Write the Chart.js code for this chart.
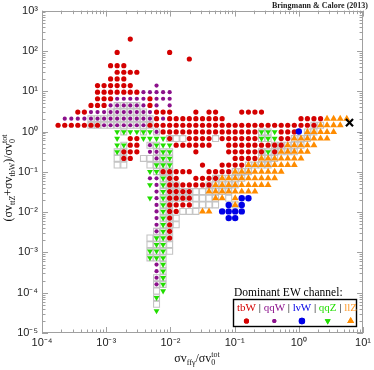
<!DOCTYPE html>
<html><head><meta charset="utf-8">
<script src="https://cdn.jsdelivr.net/npm/chart.js@4/dist/chart.umd.min.js"></script>
<style>html,body{margin:0;padding:0;background:#fff;overflow:hidden}</style>
</head><body>
<canvas id="c" width="374" height="370" style="width:374px;height:370px;display:block"></canvas>
<script>
// ---- tick labels ----
const xTickValues = [1e-4, 1e-3, 1e-2, 1e-1, 1, 10];
const xTickLabels = ['10\u207B\u2074', '10\u207B\u00B3', '10\u207B\u00B2', '10\u207B\u00B9', '10\u2070', '10\u00B9'];
const yTickValues = [1e-5, 1e-4, 1e-3, 1e-2, 1e-1, 1, 10, 100, 1000];
const yTickLabels = ['10\u207B\u2075', '10\u207B\u2074', '10\u207B\u00B3', '10\u207B\u00B2', '10\u207B\u00B9', '10\u2070', '10\u00B9', '10\u00B2', '10\u00B3'];

// ---- data: rows of [y, [x values]] ----
const tbW = [
  [196, [2.37e-3]],
  [91.9, [1.48e-3, 9.73e-3]],
  [63, [0.0197]],
  [43.1, [1.17e-3, 1.48e-3, 1.88e-3]],
  [29.5, [1.48e-3, 1.88e-3, 2.37e-3, 3.0e-3]],
  [20.2, [1.17e-3, 1.48e-3, 1.88e-3]],
  [13.8, [7.32e-4, 9.26e-4, 1.17e-3, 1.48e-3, 1.88e-3, 2.37e-3]],
  [9.47, [7.32e-4, 9.26e-4, 1.17e-3, 1.48e-3, 1.88e-3, 2.37e-3, 3.0e-3]],
  [6.49, [7.32e-4, 9.26e-4, 1.17e-3, 4.8e-3]],
  [4.44, [5.79e-4, 7.32e-4, 9.26e-4, 4.8e-3]],
  [3.04, [3.61e-4, 4.57e-4, 6.08e-3, 7.69e-3, 9.73e-3, 0.0249, 0.0399, 0.0505, 0.129, 0.164, 0.207, 0.262]],
  [2.08, [6.08e-3, 9.73e-3, 0.0123, 0.0156, 0.0197, 0.0249, 0.0316, 0.0399, 0.0505, 0.0639, 1.08, 1.36, 1.72, 2.18]],
  [1.43, [1.78e-4, 2.26e-4, 2.86e-4, 3.61e-4, 4.57e-4, 5.79e-4, 7.32e-4, 4.8e-3, 6.08e-3, 7.69e-3, 9.73e-3, 0.0123, 0.0156, 0.0197, 0.0249, 0.0316, 0.0399, 0.0505, 0.0639, 0.0808, 0.102, 0.129, 0.164, 0.207, 0.262, 0.332, 0.42, 0.531, 0.672, 0.85, 1.08, 1.36, 1.72]],
  [0.976, [7.69e-3, 9.73e-3, 0.0123, 0.0156, 0.0197, 0.0249, 0.0316, 0.0399, 0.0505, 0.0639, 0.0808, 0.102, 0.129, 0.164, 0.207, 0.531, 0.672, 0.85]],
  [0.668, [2.37e-3, 3.0e-3, 9.73e-3, 0.0197, 0.0249, 0.0316, 0.0399, 0.0639, 0.0808, 0.102, 0.129, 0.164, 0.207, 0.531, 0.672]],
  [0.457, [2.37e-3, 3.0e-3, 0.0123, 0.0156, 0.0197, 0.0249, 0.0316, 0.0399, 0.0808, 0.102, 0.129, 0.164, 0.207, 0.262, 0.332, 0.42, 0.531]],
  [0.313, [1.88e-3, 2.37e-3, 3.0e-3, 0.0249, 0.0808, 0.102, 0.129, 0.164, 0.207, 0.262, 0.42]],
  [0.215, [1.88e-3, 2.37e-3, 0.102, 0.129, 0.164, 0.207]],
  [0.147, [0.0316, 0.0639, 0.0808, 0.102, 0.129]],
  [0.101, [7.69e-3, 9.73e-3, 0.0123, 0.0156, 0.0197, 0.0399, 0.0505, 0.0639, 0.0808]],
  [0.0689, [9.73e-3, 0.0123, 0.0249, 0.0316, 0.0399, 0.0505]],
  [0.0472, [9.73e-3, 0.0123, 0.0156, 0.0197, 0.0249, 0.0316, 0.0399]],
  [0.0323, [9.73e-3, 0.0123, 0.0156, 0.0197]],
  [0.0221, [9.73e-3, 0.0123, 0.0156, 0.0197]],
  [0.0151, [9.73e-3, 0.0123, 0.0156, 0.0197]],
  [0.0104, [9.73e-3, 0.0123]],
  [0.0071, [9.73e-3]],
  [0.00486, [9.73e-3]],
  [0.00333, [9.73e-3]],
  [0.00228, [9.73e-3]]
];
const qqW = [
  [13.8, [6.08e-3]],
  [9.47, [3.8e-3, 4.8e-3, 6.08e-3, 7.69e-3, 9.73e-3]],
  [6.49, [1.48e-3, 1.88e-3, 2.37e-3, 3.0e-3, 3.8e-3, 6.08e-3, 7.69e-3, 9.73e-3]],
  [4.44, [1.17e-3, 1.48e-3, 1.88e-3, 2.37e-3, 3.0e-3, 3.8e-3, 6.08e-3, 9.73e-3]],
  [3.04, [5.79e-4, 7.32e-4, 9.26e-4, 1.17e-3, 1.48e-3, 1.88e-3, 2.37e-3, 3.0e-3, 3.8e-3, 4.8e-3]],
  [2.08, [2.26e-4, 2.86e-4, 3.61e-4, 4.57e-4, 5.79e-4, 7.32e-4, 9.26e-4, 1.17e-3, 1.48e-3, 1.88e-3, 2.37e-3, 3.0e-3, 3.8e-3, 4.8e-3, 7.69e-3]],
  [1.43, [9.26e-4, 1.17e-3, 1.48e-3, 1.88e-3, 2.37e-3, 3.0e-3, 3.8e-3]],
  [0.976, [6.08e-3]],
  [0.457, [4.8e-3]],
  [0.313, [4.8e-3, 6.08e-3]],
  [0.215, [6.08e-3]],
  [0.0689, [4.8e-3, 6.08e-3]],
  [0.0472, [6.08e-3]],
  [0.0323, [6.08e-3]],
  [0.0221, [6.08e-3]],
  [0.0151, [6.08e-3]],
  [0.0104, [6.08e-3]],
  [0.0071, [6.08e-3]],
  [0.00486, [6.08e-3]],
  [0.00333, [6.08e-3]],
  [5.0e-4, [6.08e-3]],
  [3.43e-4, [6.08e-3]],
  [2.35e-4, [6.08e-3]],
  [1.61e-4, [6.08e-3]]
];
const lvW = [
  [1.0, [1.0]],
  [0.0221, [0.129, 0.164]],
  [0.0151, [0.0808, 0.129]],
  [0.0104, [0.0639, 0.0808, 0.102, 0.129]],
  [0.0071, [0.0808, 0.102]]
];
const qqZ = [
  [1.02, [0.98]],
  [0.976, [1.48e-3, 1.88e-3, 2.37e-3, 3.0e-3, 3.8e-3, 4.8e-3, 0.262, 0.332, 0.42]],
  [0.668, [1.48e-3, 3.8e-3, 4.8e-3, 6.08e-3, 7.69e-3, 0.262, 0.332, 0.42]],
  [0.457, [1.48e-3, 1.88e-3, 6.08e-3, 7.69e-3, 9.73e-3]],
  [0.313, [1.48e-3, 7.69e-3, 9.73e-3, 0.332]],
  [0.215, [7.69e-3, 9.73e-3]],
  [0.147, [6.08e-3, 7.69e-3, 9.73e-3]],
  [0.101, [4.8e-3, 6.08e-3]],
  [0.0689, [7.69e-3]],
  [0.0472, [4.8e-3, 7.69e-3]],
  [0.0323, [7.69e-3]],
  [0.0221, [4.8e-3, 7.69e-3]],
  [0.0151, [7.69e-3]],
  [0.0104, [7.69e-3]],
  [0.0071, [7.69e-3]],
  [0.00486, [7.69e-3]],
  [0.00333, [7.69e-3]],
  [0.00228, [6.08e-3, 7.69e-3]],
  [0.00156, [6.08e-3, 7.69e-3]],
  [0.00107, [4.8e-3, 6.08e-3, 7.69e-3]],
  [7.31e-4, [4.8e-3, 6.08e-3, 7.69e-3]],
  [5.0e-4, [7.69e-3]],
  [3.43e-4, [7.69e-3]],
  [2.35e-4, [7.69e-3]],
  [1.61e-4, [7.69e-3]],
  [1.10e-4, [7.69e-3]],
  [7.53e-5, [6.08e-3]],
  [3.53e-5, [6.08e-3]]
];
const llZ = [
  [2.08, [2.75, 3.48, 4.41, 5.58]],
  [1.43, [2.18, 2.75, 3.48, 4.41]],
  [0.976, [1.36, 1.72, 2.18, 2.75, 3.48]],
  [0.668, [0.85, 1.08, 1.36, 1.72, 2.18, 2.75]],
  [0.457, [0.672, 0.85, 1.08, 1.36, 1.72]],
  [0.313, [0.531, 0.672, 0.85, 1.08, 1.36]],
  [0.215, [0.262, 0.332, 0.42, 0.531, 0.672, 0.85, 1.08]],
  [0.147, [0.164, 0.207, 0.262, 0.332, 0.42, 0.531, 0.672, 0.85]],
  [0.101, [0.102, 0.129, 0.164, 0.207, 0.262, 0.332, 0.42, 0.531]],
  [0.0689, [0.0639, 0.0808, 0.102, 0.129, 0.164, 0.207, 0.262, 0.332, 0.42]],
  [0.0472, [0.0505, 0.0639, 0.0808, 0.102, 0.129, 0.164, 0.207, 0.262, 0.332]],
  [0.0323, [0.0399, 0.0505, 0.0639, 0.0808, 0.102, 0.129, 0.164, 0.207]],
  [0.0221, [0.0505, 0.0639, 0.102]],
  [0.0151, [0.102]],
  [0.0104, [0.0316, 0.0399]]
];
const otherModels = [
  [4.44, [1.48e-3, 1.88e-3, 2.37e-3, 3.0e-3]],
  [3.04, [1.17e-3, 1.48e-3, 1.88e-3, 2.37e-3, 3.0e-3, 3.8e-3]],
  [2.08, [5.79e-4, 7.32e-4, 9.26e-4, 1.17e-3, 1.48e-3, 1.88e-3, 2.37e-3, 3.0e-3, 3.8e-3, 4.8e-3]],
  [1.43, [5.79e-4, 7.32e-4, 9.26e-4, 1.17e-3, 1.48e-3, 1.88e-3, 2.37e-3, 3.0e-3, 3.8e-3, 4.8e-3, 1.72, 2.18]],
  [0.976, [1.88e-3, 3.8e-3, 6.08e-3, 0.262, 0.332, 1.36, 1.72]],
  [0.668, [9.73e-3, 0.0123, 0.0156, 0.0505, 0.262, 0.332, 0.85, 1.08, 1.36]],
  [0.457, [1.88e-3, 4.8e-3, 6.08e-3, 0.42, 0.531, 0.672, 0.85, 1.08]],
  [0.313, [1.48e-3, 1.88e-3, 6.08e-3, 7.69e-3, 9.73e-3, 0.262, 0.332, 0.42, 0.531, 0.672, 0.85]],
  [0.215, [1.48e-3, 1.88e-3, 3.8e-3, 4.8e-3, 6.08e-3, 7.69e-3, 9.73e-3, 0.262, 0.332, 0.42]],
  [0.147, [1.48e-3, 1.88e-3, 4.8e-3, 6.08e-3, 7.69e-3, 9.73e-3, 0.164, 0.207, 0.262, 0.332]],
  [0.101, [6.08e-3, 7.69e-3, 9.73e-3, 0.102, 0.129, 0.164]],
  [0.0689, [7.69e-3, 9.73e-3, 0.0505, 0.0639, 0.0808, 0.102, 0.129]],
  [0.0472, [7.69e-3, 9.73e-3, 0.0123, 0.0399, 0.0505, 0.0639, 0.0808, 0.102]],
  [0.0323, [7.69e-3, 9.73e-3, 0.0123, 0.0156, 0.0197, 0.0249, 0.0316, 0.0399, 0.0505, 0.0639, 0.0808]],
  [0.0221, [7.69e-3, 9.73e-3, 0.0123, 0.0156, 0.0197, 0.0249, 0.0316, 0.0399, 0.0505, 0.0808]],
  [0.0151, [7.69e-3, 9.73e-3, 0.0249, 0.0316, 0.0399, 0.0505, 0.102]],
  [0.0104, [7.69e-3, 9.73e-3, 0.0156, 0.0197, 0.0249]],
  [0.0071, [7.69e-3, 9.73e-3, 0.0123]],
  [0.00486, [7.69e-3, 9.73e-3, 0.0123]],
  [0.00333, [6.08e-3, 7.69e-3, 9.73e-3]],
  [0.00228, [4.8e-3, 6.08e-3, 7.69e-3, 9.73e-3]],
  [0.00156, [4.8e-3, 6.08e-3, 7.69e-3, 9.73e-3]],
  [0.00107, [4.8e-3, 6.08e-3, 7.69e-3, 9.73e-3]],
  [7.31e-4, [4.8e-3, 6.08e-3, 7.69e-3]],
  [5.0e-4, [7.69e-3]],
  [3.43e-4, [7.69e-3]],
  [2.35e-4, [6.08e-3, 7.69e-3]],
  [1.61e-4, [6.08e-3, 7.69e-3]],
  [1.10e-4, [6.08e-3]],
  [7.53e-5, [6.08e-3]],
  [5.16e-5, [6.08e-3]]
];
const benchmark = [[1.66, [6.15]]];

// ---- build library tables ----
const toPoints = rows => rows.flatMap(([yv, xs]) => xs.map(xv => ({x: xv, y: yv})));

const COL = {tbW:'#d40000', qqW:'#8b108b', lvW:'#0000e6', qqZ:'#22dd00', llZ:'#ff8c00'};

const legendItems = [
  {text:'tbW', color:COL.tbW, style:'circle', r:2.6, rot:0},
  {text:'qqW', color:COL.qqW, style:'circle', r:2.1, rot:0},
  {text:'l\u03BDW', color:COL.lvW, style:'circle', r:3.2, rot:0},
  {text:'qqZ', color:COL.qqZ, style:'triangle', r:3.4, rot:180},
  {text:'llZ', color:'#ff9a2a', style:'triangle', r:4.0, rot:0, mark:COL.llZ}
];

function partsWidth(ctx, parts) {
  let w = 0;
  for (const p of parts) {
    ctx.font = p.font;
    if (p.stack) w += Math.max(ctx.measureText(p.stack[0]).width, ctx.measureText(p.stack[1]).width);
    else w += ctx.measureText(p.t).width;
  }
  return w;
}
function drawParts(ctx, parts, x, y) {
  for (const p of parts) {
    ctx.font = p.font;
    if (p.stack) {
      ctx.fillText(p.stack[0], x, y + 3);
      ctx.fillText(p.stack[1], x, y - 5);
      x += Math.max(ctx.measureText(p.stack[0]).width, ctx.measureText(p.stack[1]).width);
    } else {
      ctx.fillText(p.t, x, y + (p.dy || 0));
      x += ctx.measureText(p.t).width;
    }
  }
}
const SERIF = '"Liberation Serif", "DejaVu Serif", serif';
const BIG = '12px ' + SERIF, SMALL = '8px ' + SERIF;

const decor = {
  id: 'decor',
  beforeDatasetsDraw(chart) {
    const {ctx, chartArea: a, scales} = chart;
    ctx.save();
    ctx.strokeStyle = '#a0a0a0';
    ctx.lineWidth = 1;
    ctx.strokeRect(Math.round(a.left) + 0.5, Math.round(a.top) + 0.5, Math.round(a.right - a.left) - 1, Math.round(a.bottom - a.top) - 1);
    const tickSet = (scale, horiz) => {
      const e0 = Math.round(Math.log10(scale.min)), e1 = Math.round(Math.log10(scale.max));
      for (let e = e0; e <= e1; e++) {
        for (let m = 1; m <= 9; m++) {
          const v = m * Math.pow(10, e);
          if (v > scale.max * 1.0001) continue;
          const p = Math.round(scale.getPixelForValue(v)) + 0.5;
          const len = m === 1 ? 6 : 3.5;
          ctx.beginPath();
          if (horiz) {
            ctx.moveTo(p, a.bottom); ctx.lineTo(p, a.bottom - len);
            ctx.moveTo(p, a.top); ctx.lineTo(p, a.top + len);
          } else {
            ctx.moveTo(a.left, p); ctx.lineTo(a.left + len, p);
            ctx.moveTo(a.right, p); ctx.lineTo(a.right - len, p);
          }
          ctx.stroke();
        }
      }
    };
    tickSet(scales.x, true);
    tickSet(scales.y, false);
    ctx.restore();
  },
  afterDraw(chart) {
    const {ctx} = chart;
    ctx.save();
    ctx.fillStyle = '#111';
    ctx.textBaseline = 'alphabetic';
    ctx.textAlign = 'left';
    // x title
    const xt = [
      {t:'\u03C3v', font:BIG}, {t:'ff\u03B3', font:SMALL, dy:3},
      {t:'/\u03C3v', font:BIG}, {stack:['0', 'tot'], font:SMALL}
    ];
    const xw = partsWidth(ctx, xt);
    drawParts(ctx, xt, 197 - xw / 2, 362);
    // y title
    const yt = [
      {t:'(\u03C3v', font:BIG}, {t:'ttZ', font:SMALL, dy:3},
      {t:'+\u03C3v', font:BIG}, {t:'tbW', font:SMALL, dy:3},
      {t:')/\u03C3v', font:BIG}, {stack:['0', 'tot'], font:SMALL}
    ];
    const yw = partsWidth(ctx, yt);
    ctx.save();
    ctx.translate(12, 178);
    ctx.rotate(-Math.PI / 2);
    drawParts(ctx, yt, -yw / 2, 0);
    ctx.restore();
    // credit
    ctx.font = 'bold 8px ' + SERIF;
    ctx.textAlign = 'right';
    ctx.fillStyle = '#222';
    ctx.fillText('Bringmann & Calore (2013)', 368, 8);
    // legend
    ctx.textAlign = 'left';
    ctx.fillStyle = '#000';
    ctx.font = '11.5px ' + SERIF;
    ctx.fillText('Dominant EW channel:', 234, 296);
    ctx.fillStyle = '#fff';
    ctx.fillRect(233, 299, 124, 28);
    ctx.strokeStyle = '#000';
    ctx.lineWidth = 1.4;
    ctx.strokeRect(233.5, 299.5, 123, 27);
    ctx.font = '11px ' + SERIF;
    let x = 237;
    legendItems.forEach((it, i) => {
      if (i > 0) {
        ctx.fillStyle = '#000';
        ctx.fillText(' | ', x, 311);
        x += ctx.measureText(' | ').width;
      }
      ctx.fillStyle = it.color;
      ctx.fillText(it.text, x, 311);
      const w = ctx.measureText(it.text).width;
      const cx = x + w / 2;
      ctx.fillStyle = it.mark || it.color;
      ctx.strokeStyle = it.mark || it.color;
      Chart.helpers.drawPoint(ctx, {pointStyle: it.style, radius: it.r, rotation: it.rot, borderWidth: 0}, cx, 321);
      ctx.fill();
      x += w;
    });
    ctx.restore();
  }
};

const ds = (label, rows, style) => Object.assign({label, data: toPoints(rows), borderWidth: 0}, style);

new Chart(document.getElementById('c'), {
  type: 'scatter',
  data: {
    datasets: [
      ds('benchmark', benchmark, {pointStyle:'crossRot', pointRadius:5, borderColor:'#000', borderWidth:2.2, backgroundColor:'#000', order:0}),
      ds('l\u03BDW', lvW, {pointStyle:'circle', pointRadius:3.2, backgroundColor:COL.lvW, order:1}),
      ds('qqW', qqW, {pointStyle:'circle', pointRadius:2.1, backgroundColor:COL.qqW, order:2}),
      ds('tbW', tbW, {pointStyle:'circle', pointRadius:2.6, backgroundColor:COL.tbW, order:3}),
      ds('qqZ', qqZ, {pointStyle:'triangle', rotation:180, pointRadius:3.4, backgroundColor:COL.qqZ, order:4}),
      ds('llZ', llZ, {pointStyle:'triangle', pointRadius:4.0, backgroundColor:COL.llZ, order:5}),
      ds('other', otherModels, {pointStyle:'rect', pointRadius:4.2, borderColor:'#c4c4c4', borderWidth:1.1, backgroundColor:'rgba(255,255,255,0)', order:6})
    ]
  },
  options: {
    responsive: false,
    animation: false,
    devicePixelRatio: 1,
    events: [],
    layout: {padding: {top: 10, right: 8, left: 0, bottom: 0}},
    plugins: {legend: {display: false}, tooltip: {enabled: false}, title: {display: false}},
    scales: {
      x: {
        type: 'logarithmic', min: 1e-4, max: 10, position: 'bottom',
        grid: {display: false, drawTicks: false}, border: {display: false},
        ticks: {
          autoSkip: false, maxRotation: 0, padding: 3, color: '#222',
          font: {family: '"Liberation Sans", Arial, sans-serif', size: 11},
          callback: v => { const i = xTickValues.indexOf(v); return i >= 0 ? xTickLabels[i] : ''; }
        },
        afterBuildTicks: s => { s.ticks = xTickValues.map(v => ({value: v})); },
        afterFit: s => { s.height = 37; }
      },
      y: {
        type: 'logarithmic', min: 1e-5, max: 1000, position: 'left',
        grid: {display: false, drawTicks: false}, border: {display: false},
        ticks: {
          autoSkip: false, padding: 4, color: '#222',
          font: {family: '"Liberation Sans", Arial, sans-serif', size: 11},
          callback: v => { const i = yTickValues.indexOf(v); return i >= 0 ? yTickLabels[i] : ''; }
        },
        afterBuildTicks: s => { s.ticks = yTickValues.map(v => ({value: v})); },
        afterFit: s => { s.width = 42; }
      }
    }
  },
  plugins: [decor]
});
</script>
</body></html>
